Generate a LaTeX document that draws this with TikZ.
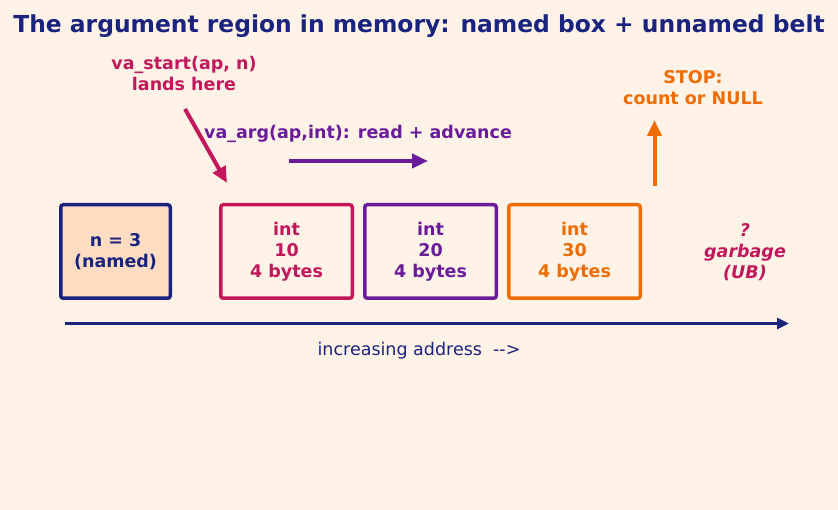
\documentclass[tikz,border=0pt]{standalone}
\usepackage{fontspec}
\setmainfont{DejaVu Sans}
\usepackage{xcolor}
\usetikzlibrary{arrows.meta, positioning}
\definecolor{bgpeach}{HTML}{FFF3E8}
\definecolor{namedfill}{HTML}{FFDCC2}
\definecolor{navy}{HTML}{1A237E}
\definecolor{crimson}{HTML}{C2185B}
\definecolor{violet}{HTML}{6A1B9A}
\definecolor{amber}{HTML}{EF6C00}
\tikzset{
  cell/.style={rectangle, draw, line width=3.5pt, rounded corners=2.5pt,
               minimum width=131.5pt, minimum height=93.5pt, align=center,
               font=\fontsize{17.5}{21}\selectfont\bfseries, inner sep=0pt},
  namedcell/.style={cell, draw=navy, fill=namedfill, text=navy,
                    minimum width=109.5pt},
  note/.style={align=center, font=\fontsize{17.5}{21}\selectfont\bfseries},
  arrow/.style={-{Triangle[length=16pt, width=14pt]}, line width=4pt},
}
\begin{document}
\begin{tikzpicture}[x=1pt, y=-1pt]
  \fill[bgpeach] (0,0) rectangle (838,510);
  \useasboundingbox (0,0) rectangle (838,510);

  \node[font=\fontsize{23.4}{28}\selectfont\bfseries, text=navy] (title) at (419,26)
    {The argument region in memory: named box + unnamed belt};

  % the memory belt
  \node[namedcell] (named) at (115.5,251.5) {n = 3\\(named)};
  \node[cell, draw=crimson, text=crimson, right=47pt of named] (a1) {int\\10\\4 bytes};
  \node[cell, draw=violet, text=violet, right=9pt of a1] (a2) {int\\20\\4 bytes};
  \node[cell, draw=amber, text=amber, right=9pt of a2] (a3) {int\\30\\4 bytes};
  \node[note, text=crimson, font=\fontsize{17.5}{21}\selectfont\bfseries\itshape] (junk) at (745,252) {?\\garbage\\(UB)};

  % address axis
  \coordinate (axl) at (65,323.5);
  \coordinate (axr) at (789,323.5);
  \draw[-{Triangle[length=12pt, width=11pt]}, line width=3pt, navy] (axl) -- (axr);
  \node[text=navy, font=\fontsize{17.5}{21}\selectfont] (addr) at (419,351) {increasing address\ \ -{}->};

  % va_start
  \node[note, text=crimson] (vstart) at (184,73) {va\_start(ap, n)\\lands here};
  \coordinate (vs0) at (185,109);
  \coordinate (vs1) at (227,183);
  \draw[arrow, crimson] (vs0) -- (vs1);

  % va_arg
  \node[note, text=violet] (varg) at (358,134) {va\_arg(ap,int): read + advance};
  \coordinate (va0) at (289,161);
  \coordinate (va1) at (428,161);
  \draw[arrow, violet] (va0) -- (va1);

  % stop
  \node[note, text=amber] (stop) at (693,88) {STOP:\\count or NULL};
  \coordinate (st0) at (654.5,186);
  \coordinate (st1) at (654.5,120);
  \draw[arrow, amber] (st0) -- (st1);
\end{tikzpicture}
\end{document}
